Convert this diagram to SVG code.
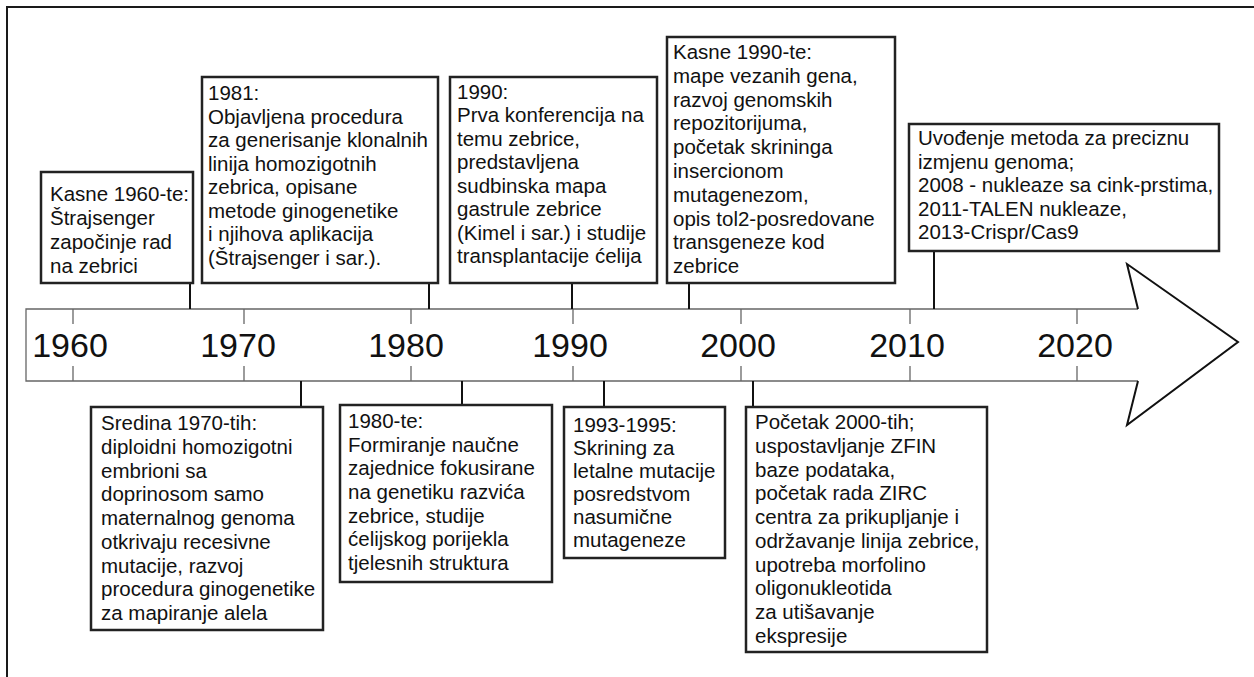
<svg xmlns="http://www.w3.org/2000/svg" width="1254" height="677" viewBox="0 0 1254 677">
<style>
.t{font-family:"Liberation Sans",Arial,sans-serif;font-size:20.5px;fill:#111}
.yr{font-family:"Liberation Sans",Arial,sans-serif;font-size:34px;fill:#111;text-anchor:middle}
.box{fill:#fff;stroke:#222;stroke-width:2.5}
.con{stroke:#111;stroke-width:2;fill:none}
.tick{stroke:#666;stroke-width:1.3}
</style>
<rect x="0" y="0" width="1254" height="677" fill="#fff"/>
<rect x="7" y="7" width="1260" height="700" fill="none" stroke="#1a1a1a" stroke-width="2"/>
<g id="axis">
<path d="M1138,309 L26,309 L26,381 L1138,381" fill="#fff" stroke="#666" stroke-width="1.3"/>
<path d="M1138,309 L1127,264 L1238,342 L1127,425 L1138,381" fill="#fff" stroke="#111" stroke-width="2"/>
<rect x="27" y="310" width="1110" height="70" fill="#fff"/>
<g class="tick">
<line x1="73" y1="309" x2="73" y2="324"/><line x1="73" y1="366" x2="73" y2="381"/>
<line x1="244" y1="309" x2="244" y2="324"/><line x1="244" y1="366" x2="244" y2="381"/>
<line x1="411" y1="309" x2="411" y2="324"/><line x1="411" y1="366" x2="411" y2="381"/>
<line x1="573" y1="309" x2="573" y2="324"/><line x1="573" y1="366" x2="573" y2="381"/>
<line x1="741" y1="309" x2="741" y2="324"/><line x1="741" y1="366" x2="741" y2="381"/>
<line x1="910" y1="309" x2="910" y2="324"/><line x1="910" y1="366" x2="910" y2="381"/>
<line x1="1077" y1="309" x2="1077" y2="324"/><line x1="1077" y1="366" x2="1077" y2="381"/>
</g>
<text class="yr" x="70" y="357">1960</text>
<text class="yr" x="238" y="357">1970</text>
<text class="yr" x="406" y="357">1980</text>
<text class="yr" x="570" y="357">1990</text>
<text class="yr" x="738" y="357">2000</text>
<text class="yr" x="907" y="357">2010</text>
<text class="yr" x="1075" y="357">2020</text>
</g>
<g id="connectors" class="con">
<line x1="190" y1="283" x2="190" y2="309"/>
<line x1="429" y1="283" x2="429" y2="309"/>
<line x1="572" y1="283" x2="572" y2="309"/>
<line x1="689" y1="283" x2="689" y2="309"/>
<line x1="934" y1="251" x2="934" y2="309"/>
<line x1="301" y1="381" x2="301" y2="407"/>
<line x1="462" y1="381" x2="462" y2="405"/>
<line x1="604" y1="381" x2="604" y2="407"/>
<line x1="753" y1="381" x2="753" y2="407"/>
</g>
<g id="n1960">
<rect class="box" x="41" y="172" width="152" height="111"/>
<text class="t"><tspan x="50" y="201">Kasne 1960-te:</tspan><tspan x="50" y="225">Štrajsenger</tspan><tspan x="50" y="249">započinje rad</tspan><tspan x="50" y="273">na zebrici</tspan></text>
</g>
<g id="n1981">
<rect class="box" x="202" y="77" width="236" height="206"/>
<text class="t"><tspan x="208" y="100">1981:</tspan><tspan x="208" y="124">Objavljena procedura</tspan><tspan x="208" y="147">za generisanje klonalnih</tspan><tspan x="208" y="171">linija homozigotnih</tspan><tspan x="208" y="194">zebrica, opisane</tspan><tspan x="208" y="218">metode ginogenetike</tspan><tspan x="208" y="241">i njihova aplikacija</tspan><tspan x="208" y="265">(Štrajsenger i sar.).</tspan></text>
</g>
<g id="n1990">
<rect class="box" x="450" y="77" width="207" height="206"/>
<text class="t"><tspan x="457" y="99">1990:</tspan><tspan x="457" y="122">Prva konferencija na</tspan><tspan x="457" y="146">temu zebrice,</tspan><tspan x="457" y="169">predstavljena</tspan><tspan x="457" y="193">sudbinska mapa</tspan><tspan x="457" y="216">gastrule zebrice</tspan><tspan x="457" y="240">(Kimel i sar.) i studije</tspan><tspan x="457" y="263">transplantacije ćelija</tspan></text>
</g>
<g id="n1990late">
<rect class="box" x="667" y="37" width="228" height="246"/>
<text class="t"><tspan x="673" y="59">Kasne 1990-te:</tspan><tspan x="673" y="83">mape vezanih gena,</tspan><tspan x="673" y="107">razvoj genomskih</tspan><tspan x="673" y="130">repozitorijuma,</tspan><tspan x="673" y="154">početak skrininga</tspan><tspan x="673" y="178">insercionom</tspan><tspan x="673" y="202">mutagenezom,</tspan><tspan x="673" y="226">opis tol2-posredovane</tspan><tspan x="673" y="249">transgeneze kod</tspan><tspan x="673" y="273">zebrice</tspan></text>
</g>
<g id="n2010">
<rect class="box" x="909" y="124" width="310" height="127"/>
<text class="t"><tspan x="918" y="145">Uvođenje metoda za preciznu</tspan><tspan x="918" y="169">izmjenu genoma;</tspan><tspan x="918" y="192">2008 - nukleaze sa cink-prstima,</tspan><tspan x="918" y="216">2011-TALEN nukleaze,</tspan><tspan x="918" y="239">2013-Crispr/Cas9</tspan></text>
</g>
<g id="n1970mid">
<rect class="box" x="91" y="407" width="232" height="223"/>
<text class="t"><tspan x="101" y="430">Sredina 1970-tih:</tspan><tspan x="101" y="454">diploidni homozigotni</tspan><tspan x="101" y="478">embrioni sa</tspan><tspan x="101" y="501">doprinosom samo</tspan><tspan x="101" y="525">maternalnog genoma</tspan><tspan x="101" y="549">otkrivaju recesivne</tspan><tspan x="101" y="573">mutacije, razvoj</tspan><tspan x="101" y="596">procedura ginogenetike</tspan><tspan x="101" y="620">za mapiranje alela</tspan></text>
</g>
<g id="n1980s">
<rect class="box" x="340" y="405" width="212" height="177"/>
<text class="t"><tspan x="348" y="428">1980-te:</tspan><tspan x="348" y="452">Formiranje naučne</tspan><tspan x="348" y="475">zajednice fokusirane</tspan><tspan x="348" y="499">na genetiku razvića</tspan><tspan x="348" y="523">zebrice, studije</tspan><tspan x="348" y="546">ćelijskog porijekla</tspan><tspan x="348" y="570">tjelesnih struktura</tspan></text>
</g>
<g id="n1993">
<rect class="box" x="564" y="407" width="161" height="151"/>
<text class="t"><tspan x="573" y="432">1993-1995:</tspan><tspan x="573" y="455">Skrining za</tspan><tspan x="573" y="478">letalne mutacije</tspan><tspan x="573" y="501">posredstvom</tspan><tspan x="573" y="524">nasumične</tspan><tspan x="573" y="547">mutageneze</tspan></text>
</g>
<g id="n2000s">
<rect class="box" x="746" y="407" width="241" height="245"/>
<text class="t"><tspan x="755" y="429">Početak 2000-tih;</tspan><tspan x="755" y="453">uspostavljanje ZFIN</tspan><tspan x="755" y="477">baze podataka,</tspan><tspan x="755" y="500">početak rada ZIRC</tspan><tspan x="755" y="524">centra za prikupljanje i</tspan><tspan x="755" y="548">održavanje linija zebrice,</tspan><tspan x="755" y="572">upotreba morfolino</tspan><tspan x="755" y="595">oligonukleotida</tspan><tspan x="755" y="619">za utišavanje</tspan><tspan x="755" y="643">ekspresije</tspan></text>
</g>
</svg>
